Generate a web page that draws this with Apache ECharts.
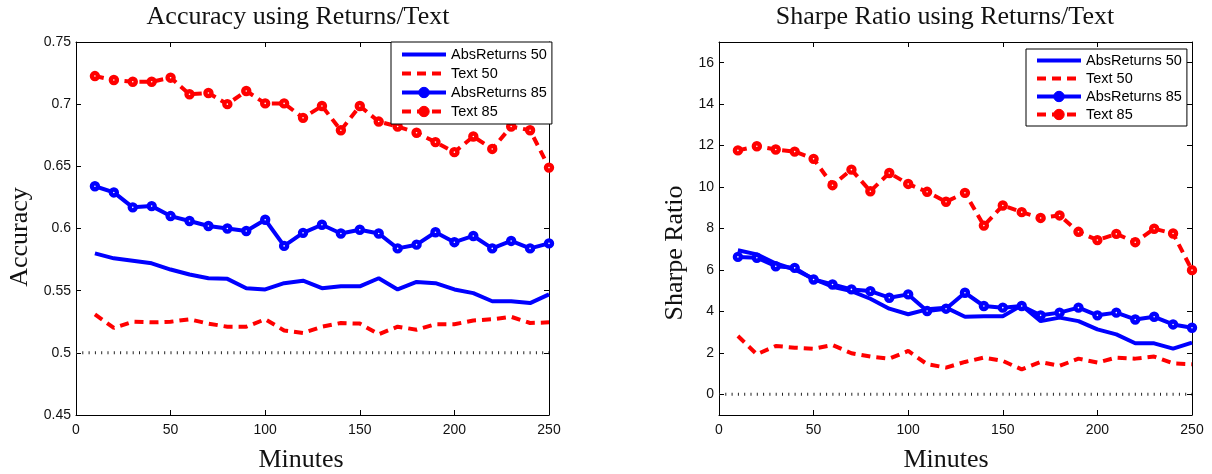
<!DOCTYPE html>
<html>
<head>
<meta charset="utf-8">
<script src="https://cdn.jsdelivr.net/npm/echarts@6/dist/echarts.min.js"></script>
<style>
  html, body { margin: 0; padding: 0; background: #fff; }
  #chart { width: 1212px; height: 474px; }
</style>
</head>
<body>
<div id="chart"></div>
<script>
// Sampling interval in minutes
const minutes = [10, 20, 30, 40, 50, 60, 70, 80, 90, 100, 110, 120, 130, 140, 150,
                 160, 170, 180, 190, 200, 210, 220, 230, 240, 250];

// Accuracy panel
const accAbs50 = [0.580, 0.576, 0.574, 0.572, 0.567, 0.563, 0.560, 0.5595, 0.552, 0.551,
                  0.556, 0.558, 0.552, 0.5535, 0.5535, 0.560, 0.551, 0.557, 0.556, 0.551,
                  0.548, 0.5415, 0.5415, 0.540, 0.547];
const accText50 = [0.531, 0.520, 0.525, 0.5245, 0.525, 0.527, 0.5235, 0.521, 0.521, 0.527,
                   0.518, 0.516, 0.521, 0.524, 0.5235, 0.515, 0.521, 0.5186, 0.523, 0.523,
                   0.526, 0.527, 0.529, 0.524, 0.5245];
const accAbs85 = [0.634, 0.629, 0.617, 0.618, 0.610, 0.606, 0.602, 0.600, 0.598, 0.607,
                  0.586, 0.5965, 0.603, 0.596, 0.599, 0.596, 0.584, 0.587, 0.597, 0.589,
                  0.594, 0.584, 0.590, 0.584, 0.588];
const accText85 = [0.7226, 0.7194, 0.718, 0.718, 0.7213, 0.708, 0.709, 0.700, 0.7106, 0.7006,
                   0.7006, 0.689, 0.6985, 0.679, 0.6985, 0.686, 0.682, 0.677, 0.6695, 0.6614,
                   0.674, 0.664, 0.682, 0.679, 0.649];
const accBaseline = 0.5;

// Sharpe ratio panel
const sharpeAbs50 = [6.95, 6.75, 6.31, 6.02, 5.57, 5.19, 4.98, 4.61, 4.13, 3.86,
                     4.10, 4.18, 3.74, 3.77, 3.77, 4.29, 3.53, 3.70, 3.53, 3.13,
                     2.89, 2.46, 2.46, 2.20, 2.49];
const sharpeText50 = [2.81, 1.93, 2.33, 2.25, 2.20, 2.38, 1.98, 1.82, 1.72, 2.09,
                      1.45, 1.29, 1.56, 1.77, 1.61, 1.20, 1.56, 1.37, 1.72, 1.53,
                      1.77, 1.72, 1.82, 1.49, 1.45];
const sharpeAbs85 = [6.63, 6.59, 6.18, 6.10, 5.54, 5.30, 5.06, 4.98, 4.66, 4.82,
                     4.02, 4.13, 4.90, 4.26, 4.18, 4.26, 3.81, 3.94, 4.18, 3.81,
                     3.94, 3.61, 3.74, 3.37, 3.21];
const sharpeText85 = [11.77, 11.97, 11.81, 11.71, 11.36, 10.09, 10.84, 9.80, 10.68, 10.15,
                      9.77, 9.29, 9.72, 8.14, 9.11, 8.79, 8.51, 8.63, 7.84, 7.44,
                      7.74, 7.34, 7.99, 7.76, 5.99];
const sharpeBaseline = 0;

const seriesNames = ['AbsReturns 50', 'Text 50', 'AbsReturns 85', 'Text 85'];
const sharpeTicks = [0, 2, 4, 6, 8, 10, 12, 14, 16];

const BLUE = '#0000ff';
const RED = '#ff0000';
const SANS = '"Liberation Sans", Arial, sans-serif';
const SERIF = '"Liberation Serif", "Times New Roman", serif';

const seriesColor = { 'AbsReturns 50': BLUE, 'Text 50': RED, 'AbsReturns 85': BLUE, 'Text 85': RED };
const hasMarker = { 'AbsReturns 50': false, 'Text 50': false, 'AbsReturns 85': true, 'Text 85': true };

const pairs = (ys) => minutes.map((m, i) => [m, ys[i]]);

function lineSeries(name, ys, idx) {
  const color = seriesColor[name];
  const dashed = name.indexOf('Text') === 0;
  return {
    name, type: 'line', xAxisIndex: idx, yAxisIndex: idx,
    data: pairs(ys),
    symbol: hasMarker[name] ? 'circle' : 'none',
    symbolSize: 6,
    showAllSymbol: true,
    itemStyle: { color: '#fff', borderColor: color, borderWidth: 4.4 },
    lineStyle: { color, width: 4, type: dashed ? [9, 6] : 'solid', cap: 'butt' },
    emphasis: { disabled: true },
    z: 3
  };
}

function baseline(value, idx) {
  return {
    type: 'line', xAxisIndex: idx, yAxisIndex: idx,
    data: [[0, value], [250, value]],
    symbol: 'none', silent: true,
    lineStyle: { color: '#222', width: 3, type: [1, 5.3], cap: 'butt' },
    z: 2
  };
}

function xAxes(idx) {
  const common = {
    gridIndex: idx, type: 'value', min: 0, max: 250, interval: 50,
    axisLine: { show: true, onZero: false, lineStyle: { color: '#000', width: 1 } },
    axisTick: { show: true, inside: true, length: 5, lineStyle: { color: '#000' } },
    splitLine: { show: false }
  };
  return [
    Object.assign({}, common, {
      position: 'bottom',
      axisLabel: { fontSize: 14, margin: 8, color: '#111', fontFamily: SANS }
    }),
    Object.assign({}, common, { position: 'top', axisLabel: { show: false } })
  ];
}

function yAxes(idx, extra) {
  const common = Object.assign({
    gridIndex: idx, type: 'value',
    axisLine: { show: true, onZero: false, lineStyle: { color: '#000', width: 1 } },
    splitLine: { show: false }
  }, extra.range);
  return [
    Object.assign({}, common, {
      position: 'left',
      axisTick: Object.assign({ show: true, inside: true, length: 5, lineStyle: { color: '#000' } }, extra.tick),
      axisLabel: Object.assign({ fontSize: 14, margin: 5, color: '#111', fontFamily: SANS }, extra.tick)
    }),
    Object.assign({}, common, {
      position: 'right',
      axisTick: Object.assign({ show: true, inside: true, length: 5, lineStyle: { color: '#000' } }, extra.tick),
      axisLabel: { show: false }
    })
  ];
}

// Legend entries: plain lines for the 50 series, filled dots on the line for the 85 series
function legendItems() {
  return seriesNames.map((name) => ({
    name,
    itemStyle: hasMarker[name]
      ? { color: seriesColor[name], borderColor: seriesColor[name], borderWidth: 1, opacity: 1 }
      : { opacity: 0 }
  }));
}

function legend(left, top, pad, gap) {
  return {
    data: legendItems(), orient: 'vertical', left, top,
    padding: [pad, 5, pad, 9], itemGap: gap, itemWidth: 44, itemHeight: 13,
    backgroundColor: '#fff', borderColor: '#000', borderWidth: 1, borderRadius: 0,
    lineStyle: { width: 4 },
    textStyle: { fontSize: 14.5, lineHeight: 13, color: '#000', fontFamily: SANS },
    selectedMode: false
  };
}

const xs = xAxes(0).concat(xAxes(1));
const ys = yAxes(0, { range: { min: 0.45, max: 0.75, interval: 0.05 }, tick: {} })
  .concat(yAxes(1, { range: { min: -1, max: 17 }, tick: { customValues: sharpeTicks } }));

const option = {
  animation: false,
  backgroundColor: '#fff',
  title: [
    { text: 'Accuracy using Returns/Text', left: 298, top: 4, textAlign: 'center', padding: 0,
      textStyle: { fontFamily: SERIF, fontSize: 26, fontWeight: 'normal', color: '#111' } },
    { text: 'Sharpe Ratio using Returns/Text', left: 945, top: 4, textAlign: 'center', padding: 0,
      textStyle: { fontFamily: SERIF, fontSize: 26, fontWeight: 'normal', color: '#111' } }
  ],
  grid: [
    { left: 76, right: 663, top: 42, bottom: 59 },
    { left: 719, right: 20, top: 42, bottom: 59 }
  ],
  xAxis: xs,
  yAxis: ys,
  legend: [legend(391, 42, 5, 4), legend(1026, 49, 4, 3)],
  series: [
    baseline(accBaseline, 0),
    lineSeries('AbsReturns 50', accAbs50, 0),
    lineSeries('Text 50', accText50, 0),
    lineSeries('AbsReturns 85', accAbs85, 0),
    lineSeries('Text 85', accText85, 0),
    baseline(sharpeBaseline, 2),
    lineSeries('AbsReturns 50', sharpeAbs50, 2),
    lineSeries('Text 50', sharpeText50, 2),
    lineSeries('AbsReturns 85', sharpeAbs85, 2),
    lineSeries('Text 85', sharpeText85, 2)
  ],
  graphic: [
    { type: 'text', x: 301, y: 460, style: { text: 'Minutes', font: '26px ' + SERIF, fill: '#111', align: 'center', verticalAlign: 'middle' } },
    { type: 'text', x: 946, y: 460, style: { text: 'Minutes', font: '26px ' + SERIF, fill: '#111', align: 'center', verticalAlign: 'middle' } },
    { type: 'text', x: 20, y: 237, rotation: Math.PI / 2, style: { text: 'Accuracy', font: '26px ' + SERIF, fill: '#111', align: 'center', verticalAlign: 'middle' } },
    { type: 'text', x: 675, y: 253, rotation: Math.PI / 2, style: { text: 'Sharpe Ratio', font: '26px ' + SERIF, fill: '#111', align: 'center', verticalAlign: 'middle' } }
  ]
};

// Series use axis pairs 0 (left panel) and 2 (right panel); 1 and 3 are the mirrored frame axes.
echarts.init(document.getElementById('chart')).setOption(option);
</script>
</body>
</html>
